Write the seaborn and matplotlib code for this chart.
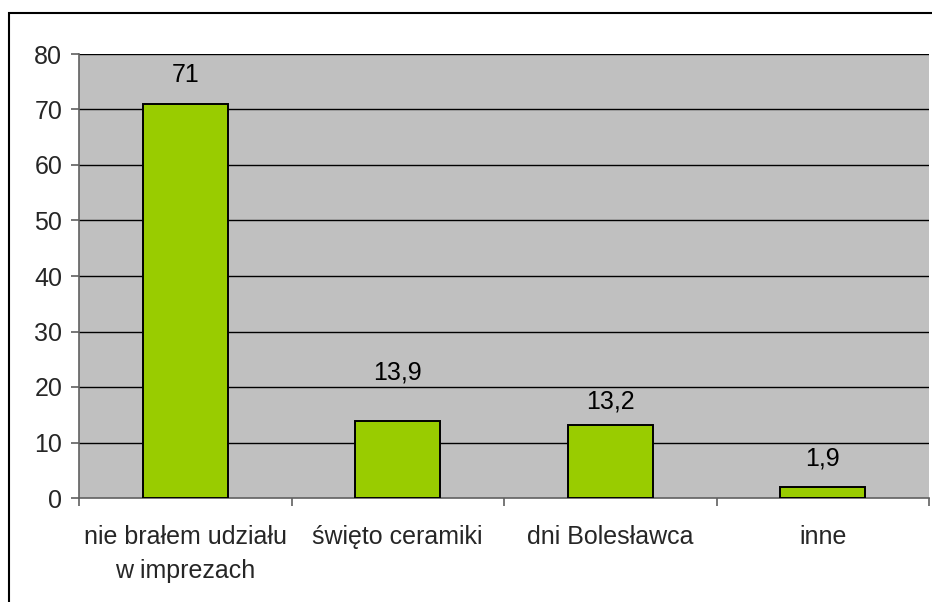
import matplotlib
matplotlib.use("Agg")
import matplotlib.pyplot as plt
import seaborn as sns
import pandas as pd
from matplotlib.patches import Rectangle

categories = ["nie brałem udziału\nw imprezach", "święto ceramiki", "dni Bolesławca", "inne"]
values = [71, 13.9, 13.2, 1.9]
value_labels = ["71", "13,9", "13,2", "1,9"]
y_ticks = [0, 10, 20, 30, 40, 50, 60, 70, 80]

sns.set_theme(style="white")
plt.rcParams["font.family"] = ["Liberation Sans", "DejaVu Sans"]

df = pd.DataFrame({"kategoria": categories, "wartosc": values})

W, H = 932, 602
FS = 18
fig = plt.figure(figsize=(W / 100, H / 100), dpi=100)
ax = fig.add_axes([79 / W, (H - 498) / H, (929 - 79) / W, (498 - 54) / H])
ax.set_facecolor("#C0C0C0")

sns.barplot(data=df, x="kategoria", y="wartosc", ax=ax, color="#99CC00",
            saturation=1, width=0.4, edgecolor="black", linewidth=1.4, zorder=3)

ax.set_ylim(0, 80)
ax.set_xlim(-0.5, len(categories) - 0.5)
ax.set_yticks(y_ticks)
ax.set_yticklabels([str(t) for t in y_ticks])
for t in y_ticks[1:]:
    ax.axhline(t, color="black", linewidth=1.0, zorder=1)

ax.set_xlabel("")
ax.set_ylabel("")
for side in ["top", "right"]:
    ax.spines[side].set_visible(False)
for side in ["left", "bottom"]:
    ax.spines[side].set_color("#606060")
    ax.spines[side].set_linewidth(1.2)

# category separators below the axis
ax.set_xticks([i - 0.5 for i in range(len(categories) + 1)], minor=True)
ax.set_xticks(range(len(categories)))
ax.set_xticklabels(categories, fontsize=FS, linespacing=1.5)
ax.tick_params(axis="x", which="major", length=0, pad=19.5)
ax.tick_params(axis="x", which="minor", length=6, width=1.2, color="#606060",
               direction="out", bottom=True)
ax.tick_params(axis="y", length=6, width=1.2, color="#606060", direction="out",
               left=True, labelsize=FS, pad=6)

label_offsets = [29, 48, 23, 29]
for i, (v, txt, off) in enumerate(zip(values, value_labels, label_offsets)):
    ax.annotate(txt, xy=(i, v), xytext=(0, off * 0.72), textcoords="offset points",
                ha="center", va="center", fontsize=FS, color="black")

# outer frame of the chart
fig.patches.append(Rectangle((9 / W, -0.1), 1.2, (H - 13) / H + 0.1,
                             transform=fig.transFigure, fill=False,
                             edgecolor="black", linewidth=1.5, zorder=10))

fig.savefig("out.png", dpi=100)
